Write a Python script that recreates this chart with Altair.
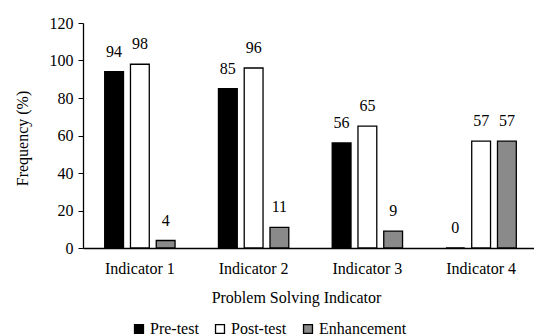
import altair as alt
import pandas as pd

indicators = ["Indicator 1", "Indicator 2", "Indicator 3", "Indicator 4"]
series = ["Pre-test", "Post-test", "Enhancement"]
pre_test = [94, 85, 56, 0]
post_test = [98, 96, 65, 57]
enhancement = [4, 11, 9, 57]
y_ticks = [0, 20, 40, 60, 80, 100, 120]

rows = []
for i, ind in enumerate(indicators):
    for s, vals in zip(series, [pre_test, post_test, enhancement]):
        rows.append({"indicator": ind, "series": s, "value": vals[i]})
df = pd.DataFrame(rows)

FONT = "Liberation Serif, Times New Roman, serif"

xscale = alt.Scale(domain=indicators, range=[0, 455], paddingInner=0.3, paddingOuter=0.15)
offscale = alt.Scale(domain=series, paddingInner=0.27, paddingOuter=0.18)
yscale = alt.Scale(domain=[0, 120])

base = alt.Chart(df).encode(
    x=alt.X(
        "indicator:N",
        scale=xscale,
        sort=indicators,
        axis=alt.Axis(
            title="Problem Solving Indicator",
            labelAngle=0,
            ticks=False,
            domainColor="black",
            domainWidth=1.3,
            labelFont=FONT,
            labelFontSize=16,
            labelColor="black",
            labelBaseline="alphabetic",
            labelPadding=25,
            titleFont=FONT,
            titleFontSize=16,
            titleFontWeight="normal",
            titleColor="black",
            titleBaseline="alphabetic",
            titleY=54,
            titleX=213,
        ),
    ),
    xOffset=alt.XOffset("series:N", scale=offscale, sort=series),
    y=alt.Y(
        "value:Q",
        scale=yscale,
        axis=alt.Axis(
            title="Frequency (%)",
            values=y_ticks,
            grid=False,
            domainColor="black",
            domainWidth=1.3,
            tickColor="black",
            tickSize=5,
            labelPadding=5,
            labelFont=FONT,
            labelFontSize=16,
            labelColor="black",
            titleFont=FONT,
            titleFontSize=16,
            titleFontWeight="normal",
            titleColor="black",
            titleX=-61,
            titleY=115,
            titleBaseline="middle",
            titleAlign="center",
        ),
    ),
)

bars = base.mark_bar(stroke="black", strokeWidth=1.3).encode(
    color=alt.Color(
        "series:N",
        sort=series,
        scale=alt.Scale(domain=series, range=["#000000", "#ffffff", "#8a8a8a"]),
        legend=alt.Legend(
            title=None,
            orient="none",
            direction="horizontal",
            legendX=48,
            legendY=298,
            symbolType="square",
            symbolSize=80,
            symbolStrokeColor="black",
            symbolStrokeWidth=1.3,
            labelFont=FONT,
            labelFontSize=16,
            labelColor="black",
            labelOffset=3,
            columnPadding=13,
        ),
    )
)

labels = base.mark_text(
    font=FONT, fontSize=16, color="black", baseline="alphabetic", dy=-15
).encode(text=alt.Text("value:Q"))

chart = (
    alt.layer(bars, labels)
    .properties(
        width=451,
        height=225,
        autosize=alt.AutoSizeParams(type="none"),
        padding={"left": 83, "top": 23, "right": 0, "bottom": 88},
        background="white",
    )
    .configure(font=FONT)
    .configure_view(stroke=None)
)

chart.save("out.html", embed_options={"renderer": "svg", "actions": False})
